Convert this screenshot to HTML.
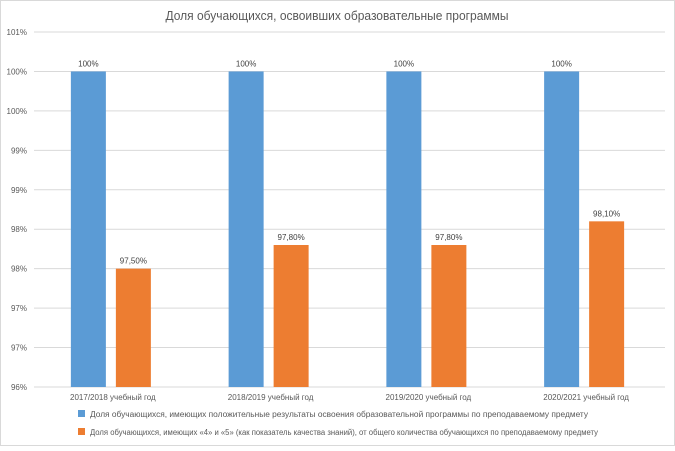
<!DOCTYPE html>
<html><head><meta charset="utf-8"><style>
body{margin:0;background:#fff;}
svg{font-family:"Liberation Sans",sans-serif;}
</style></head><body>
<svg id="c" width="675" height="446">
<rect x="0.5" y="0.5" width="674" height="445" fill="#fff" stroke="#d9d9d9"/>
<text x="337" y="20" text-anchor="middle" font-size="13" textLength="343" lengthAdjust="spacingAndGlyphs" fill="#595959">Доля обучающихся, освоивших образовательные программы</text>
<g id="grid"></g><g id="bars"></g>
<g>
<rect x="78" y="410" width="7" height="7" fill="#5b9bd5"/>
<text x="90" y="417" font-size="8" textLength="498" lengthAdjust="spacingAndGlyphs" fill="#595959">Доля обучающихся, имеющих положительные результаты освоения образовательной программы  по преподаваемому предмету</text>
<rect x="78" y="428" width="7" height="7" fill="#ed7d31"/>
<text x="90" y="435" font-size="8" textLength="508" lengthAdjust="spacingAndGlyphs" fill="#595959">Доля обучающихся, имеющих «4» и «5» (как показатель качества знаний), от общего количества обучающихся по преподаваемому предмету</text>
</g>
</svg>
<script>
const categories=["2017/2018 учебный год","2018/2019 учебный год","2019/2020 учебный год","2020/2021 учебный год"];
const positive=[100,100,100,100];
const quality=[97.5,97.8,97.8,98.1];
const positiveLabels=["100%","100%","100%","100%"];
const qualityLabels=["97,50%","97,80%","97,80%","98,10%"];
const ticks=[96,96.5,97,97.5,98,98.5,99,99.5,100,100.5];
const NS="http://www.w3.org/2000/svg";
const x0=34,x1=665,yMin=96,yMax=100.5,yTop=32,yBot=387;
const y=v=>yBot-(v-yMin)/(yMax-yMin)*(yBot-yTop);
const cw=(x1-x0)/categories.length;
const g=document.getElementById('grid'),b=document.getElementById('bars');
function mk(t,a,p){const e=document.createElementNS(NS,t);for(const k in a)e.setAttribute(k,a[k]);p.appendChild(e);return e;}
ticks.forEach(t=>{
 const l=mk('line',{x1:x0,x2:x1,y1:y(t),y2:y(t),stroke:'#d9d9d9'},g);
 
 
 const tx=mk('text',{x:x0-7,y:y(t)+3,'text-anchor':'end','font-size':'8',fill:'#595959'},g);
 tx.textContent=Math.round(t)+'%';
 
 
});
categories.forEach((c,i)=>{
 const cx=x0+cw*(i+0.5);
 const bw=35;
 const r1=mk('rect',{x:cx-42,y:y(positive[i]),width:bw,height:yBot-y(positive[i]),fill:'#5b9bd5'},b);
 
 
 const r2=mk('rect',{x:cx+3,y:y(quality[i]),width:bw,height:yBot-y(quality[i]),fill:'#ed7d31'},b);
 
 
 const t1=mk('text',{x:cx-42+bw/2,y:y(positive[i])-5,'text-anchor':'middle','font-size':'8',fill:'#404040'},b);
 t1.textContent=positiveLabels[i];
 
 
 const t2=mk('text',{x:cx+3+bw/2,y:y(quality[i])-5,'text-anchor':'middle','font-size':'8',fill:'#404040'},b);
 t2.textContent=qualityLabels[i];
 
 
 const t3=mk('text',{x:cx,y:400,'text-anchor':'middle','font-size':'8',fill:'#595959'},b);
 t3.textContent=c;
 
 
});
</script>
</body></html>
